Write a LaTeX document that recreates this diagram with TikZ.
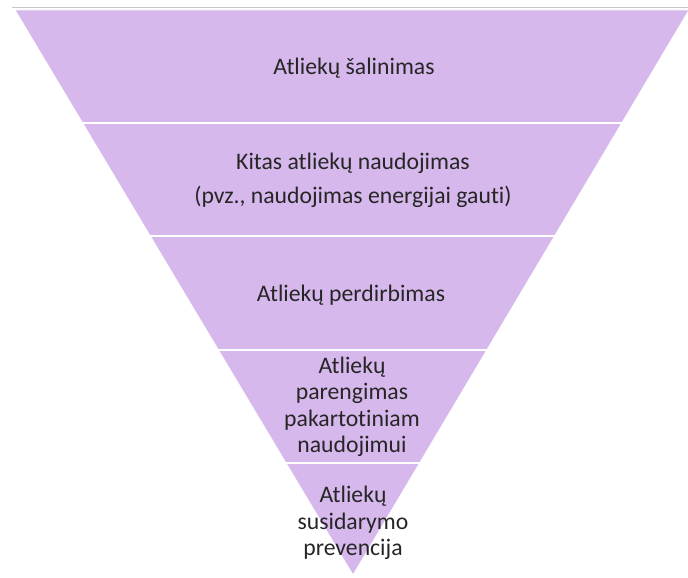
\documentclass[tikz,border=0pt]{standalone}
\usepackage{fontspec}
\setmainfont[Ligatures=NoCommon]{Carlito}
\usetikzlibrary{calc}
\definecolor{bandfill}{RGB}{214,184,236}
\definecolor{txt}{RGB}{38,38,38}
\definecolor{topline}{RGB}{200,200,200}
\begin{document}
\begin{tikzpicture}[x=1pt,y=-1pt,
  lbl/.style={text=txt,font=\fontsize{23.7}{26.5}\selectfont,align=center,inner sep=0pt},
  sep/.style={draw=white,line width=2pt}]
\useasboundingbox (0,0) rectangle (688,578);
\coordinate (A) at (15,10);
\coordinate (B) at (689,10);
\coordinate (C) at (353,575);
\coordinate (G1) at (12,8);
\coordinate (G2) at (688,8);
\draw[topline,line width=1pt] (G1) -- (G2);
\fill[bandfill,draw=white,line width=0.8pt] (A) -- (B) -- (C) -- cycle;
\foreach \t/\n in {0.2/1,0.4/2,0.6018/3,0.8018/4}{
  \coordinate (L\n) at ($(A)!\t!(C)$);
  \coordinate (R\n) at ($(B)!\t!(C)$);
  \draw[sep] (L\n) -- (R\n);
}
\node[lbl] (t1) at (354,68) {Atliekų šalinimas};
\node[lbl,font=\fontsize{23.7}{34}\selectfont] (t2) at (353,180) {Kitas atliekų naudojimas\\(pvz., naudojimas energijai gauti)};
\node[lbl] (t3) at (351,295) {Atliekų perdirbimas};
\node[lbl] (t4) at (352,407) {Atliekų\\parengimas\\pakartotiniam\\naudojimui};
\node[lbl] (t5) at (353,523) {Atliekų\\susidarymo\\prevencija};
\end{tikzpicture}
\end{document}
